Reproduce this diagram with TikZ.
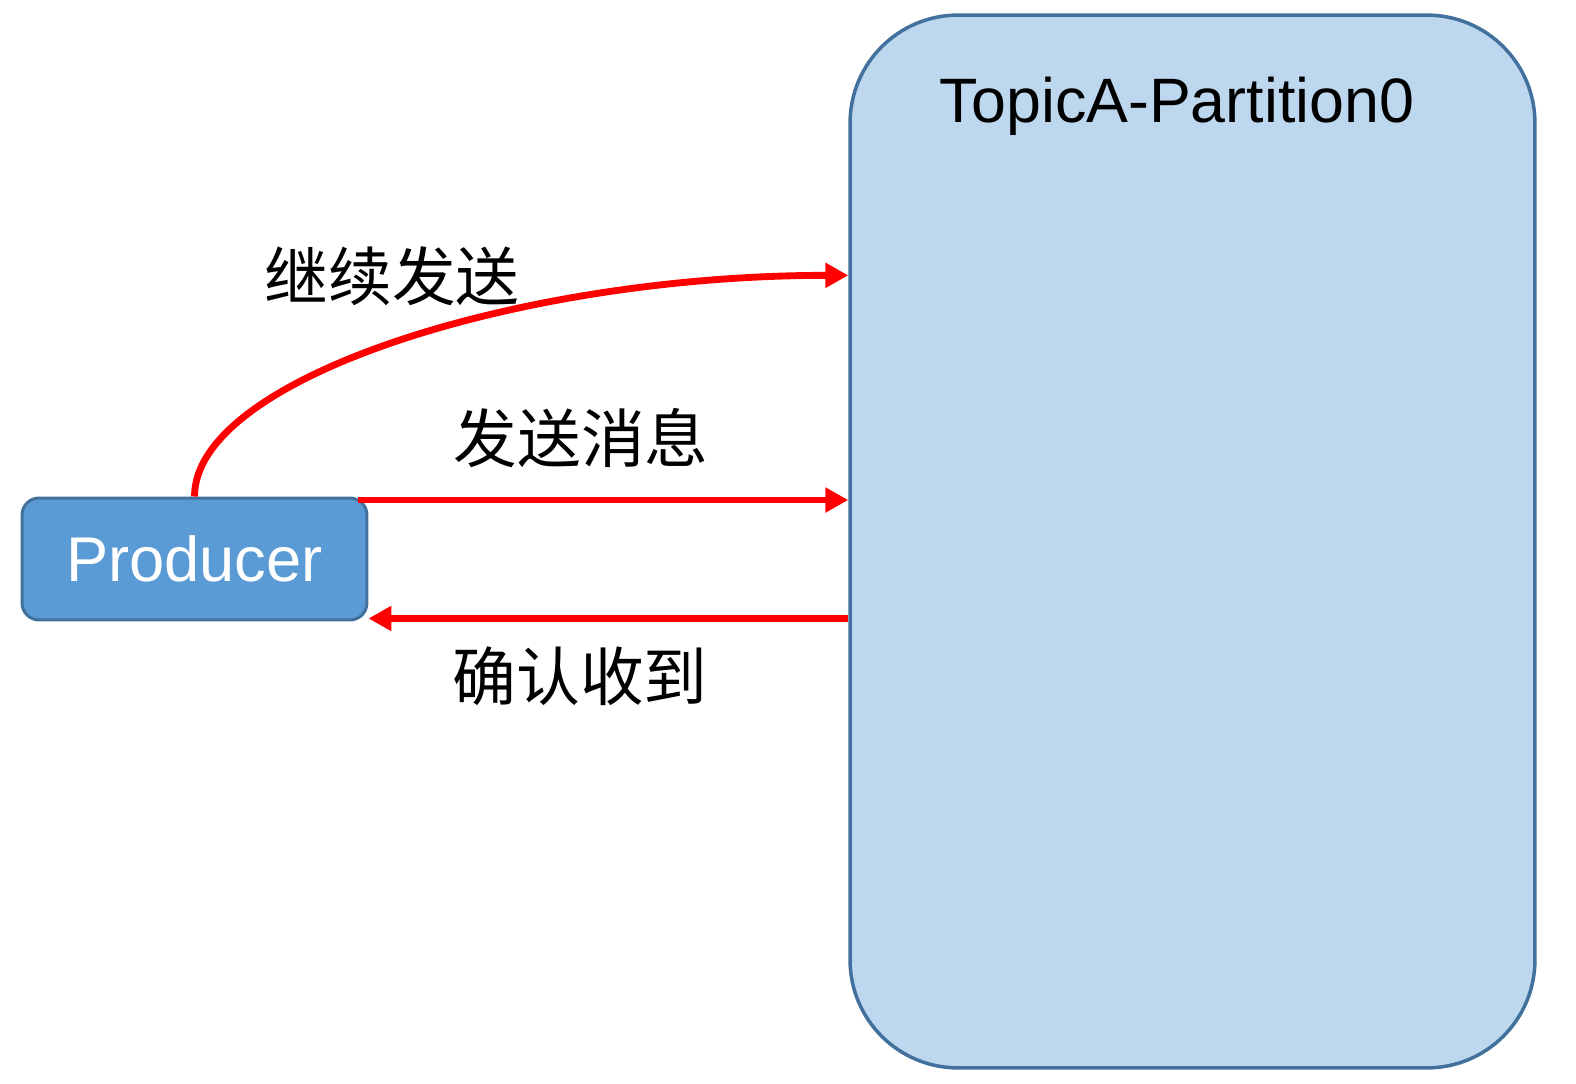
\documentclass[tikz,border=0pt]{standalone}
\usepackage{fontspec}
\setmainfont{Liberation Sans}
\newfontfamily\cjk{Noto Sans CJK SC}
\usetikzlibrary{arrows.meta,calc}
\definecolor{partfill}{HTML}{BDD7EE}
\definecolor{partdraw}{HTML}{41719C}
\definecolor{prodfill}{HTML}{5B9BD5}
\definecolor{arrred}{HTML}{FF0000}
\tikzset{
  partbox/.style={draw=partdraw, fill=partfill, line width=2pt, rounded corners=2.16cm,
    rectangle, minimum width=13.7cm, minimum height=21.06cm, inner sep=0pt},
  prodbox/.style={draw=partdraw, fill=prodfill, line width=1.7pt, rounded corners=0.34cm,
    rectangle, minimum width=6.9cm, minimum height=2.44cm, inner sep=0pt,
    text=white, font=\fontsize{36pt}{40pt}\selectfont},
  titletext/.style={inner sep=0pt, anchor=base, font=\fontsize{35.7pt}{40pt}\selectfont},
  cjklabel/.style={inner sep=0pt, anchor=center, font=\cjk\fontsize{36.3pt}{40pt}\selectfont},
  redarrow/.style={draw=arrred, line width=3.9pt, -{Triangle[length=13pt,width=13.5pt]}},
}
\begin{document}
\begin{tikzpicture}[x=0.02cm, y=-0.02cm]
\useasboundingbox (0,0) rectangle (1576,1084);
\node[partbox] (part) at (1192.5,541.5) {};
\node[titletext] (title) at (1177,123) {TopicA-Partition0};
\node[prodbox] (prod) at (194.5,559) {Producer};
\node[cjklabel] (l1) at (392,276) {继续发送};
\node[cjklabel] (l2) at (581,438) {发送消息};
\node[cjklabel] (l3) at (580,676) {确认收到};
\coordinate (s1) at ($(prod.north east)+(-10,3.5)$);
\coordinate (a1) at ($(prod.south east)+(0,-3)$);
\coordinate (c2) at ($(part.north west)+(0,262)$);
\draw[redarrow] (s1) -- (s1 -| part.west);
\draw[redarrow] (a1 -| part.west) -- (a1);
\draw[redarrow] (prod.north) .. controls +(0,-118) and +(-330,0) .. (c2);
\end{tikzpicture}
\end{document}
